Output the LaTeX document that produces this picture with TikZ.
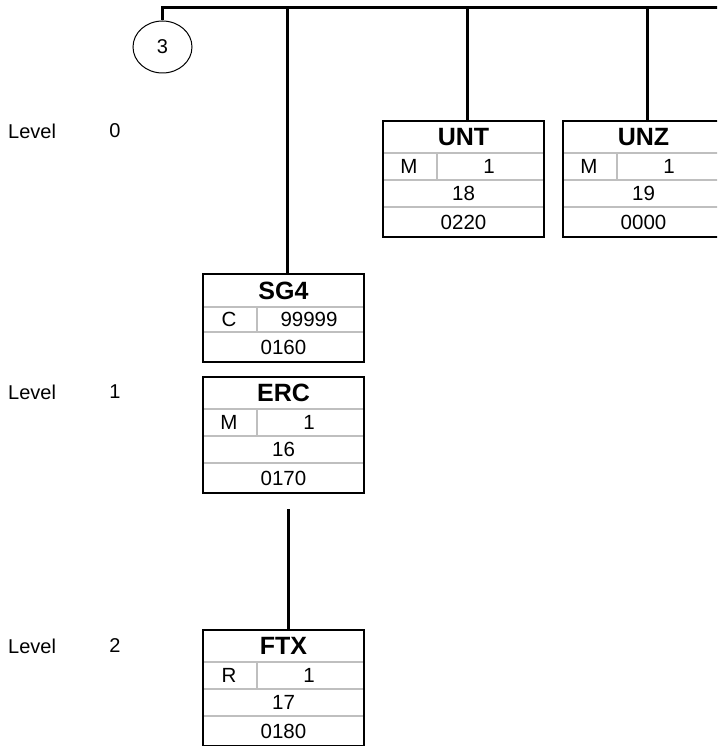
\documentclass[tikz,border=0pt]{standalone}
\usepackage{fontspec}
\setmainfont{Liberation Sans}
\usetikzlibrary{shapes.geometric}
\tikzset{
  segframe/.style={minimum width=161pt, inner sep=0pt, outer sep=0pt, anchor=north west},
  frameline/.style={draw=black, line width=2pt},
  divider/.style={draw=black!25, line width=1.5pt},
  conn/.style={draw=black, line width=3pt},
  txt/.style={font=\fontsize{20.5}{24}\selectfont, inner sep=0pt},
  ttl/.style={font=\fontsize{25}{29}\selectfont\bfseries, inner sep=0pt},
  lvl/.style={font=\fontsize{20}{24}\selectfont, inner sep=0pt},
}
% name, x, y, title, status, repeat, number, position
\newcommand\segfour[8]{%
  \node[segframe, minimum height=116pt] (#1) at (#2,#3) {};
  \draw[divider] ([yshift=-32pt]#1.north west) -- ([yshift=-32pt]#1.north east);
  \draw[divider] ([yshift=-59pt]#1.north west) -- ([yshift=-59pt]#1.north east);
  \draw[divider] ([yshift=-86pt]#1.north west) -- ([yshift=-86pt]#1.north east);
  \draw[divider] ([xshift=54pt,yshift=-32pt]#1.north west) -- ([xshift=54pt,yshift=-59pt]#1.north west);
  \draw[frameline] (#1.north west) rectangle (#1.south east);
  \node[ttl] (#1-t) at ([yshift=-16pt]#1.north) {#4};
  \node[txt] (#1-s) at ([xshift=26pt,yshift=-45.5pt]#1.north west) {#5};
  \node[txt] (#1-r) at ([xshift=106pt,yshift=-45.5pt]#1.north west) {#6};
  \node[txt] (#1-n) at ([yshift=-72.5pt]#1.north) {#7};
  \node[txt] (#1-p) at ([yshift=-101pt]#1.north) {#8};
}
% name, x, y, title, status, repeat, position
\newcommand\segthree[7]{%
  \node[segframe, minimum height=88pt] (#1) at (#2,#3) {};
  \draw[divider] ([yshift=-33pt]#1.north west) -- ([yshift=-33pt]#1.north east);
  \draw[divider] ([yshift=-58pt]#1.north west) -- ([yshift=-58pt]#1.north east);
  \draw[divider] ([xshift=54pt,yshift=-33pt]#1.north west) -- ([xshift=54pt,yshift=-58pt]#1.north west);
  \draw[frameline] (#1.north west) rectangle (#1.south east);
  \node[ttl] (#1-t) at ([yshift=-16.5pt]#1.north) {#4};
  \node[txt] (#1-s) at ([xshift=26pt,yshift=-45.5pt]#1.north west) {#5};
  \node[txt] (#1-r) at ([xshift=106pt,yshift=-45.5pt]#1.north west) {#6};
  \node[txt] (#1-p) at ([yshift=-73pt]#1.north) {#7};
}
\begin{document}
\begin{tikzpicture}[x=1pt, y=-1pt]
  \useasboundingbox (0,0) rectangle (717,746);
  \clip (0,0) rectangle (717,746);

  % level labels
  \node[lvl, anchor=west] (lvl0) at (8,131) {Level};
  \node[lvl] (lvl0n) at (115,131) {0};
  \node[lvl, anchor=west] (lvl1) at (8,392) {Level};
  \node[lvl] (lvl1n) at (115,392) {1};
  \node[lvl, anchor=west] (lvl2) at (8,646) {Level};
  \node[lvl] (lvl2n) at (115,646) {2};

  % circle
  \node[draw=black, line width=1pt, ellipse, minimum width=59pt, minimum height=52pt, inner sep=0pt, font=\fontsize{20}{24}\selectfont] (c3) at (162.5,47) {3};
  \coordinate (topright) at (730,8);

  % boxes
  \segfour{unt}{383}{121}{UNT}{M}{1}{18}{0220}
  \segfour{unz}{563}{121}{UNZ}{M}{1}{19}{0000}
  \segthree{sg4}{203}{274}{SG4}{C}{99999}{0160}
  \segfour{erc}{203}{377}{ERC}{M}{1}{16}{0170}
  \segfour{ftx}{203}{630}{FTX}{R}{1}{17}{0180}

  \coordinate (ercgap) at (288,509);

  % connectors
  \draw[conn] (c3.north) |- (topright);
  \draw[conn] ([xshift=4pt]sg4.north |- topright) -- ([xshift=4pt]sg4.north);
  \draw[conn] ([xshift=4pt]unt.north |- topright) -- ([xshift=4pt]unt.north);
  \draw[conn] ([xshift=4pt]unz.north |- topright) -- ([xshift=4pt]unz.north);
  \draw[conn] (ercgap) -- (ercgap |- ftx.north);
\end{tikzpicture}
\end{document}
